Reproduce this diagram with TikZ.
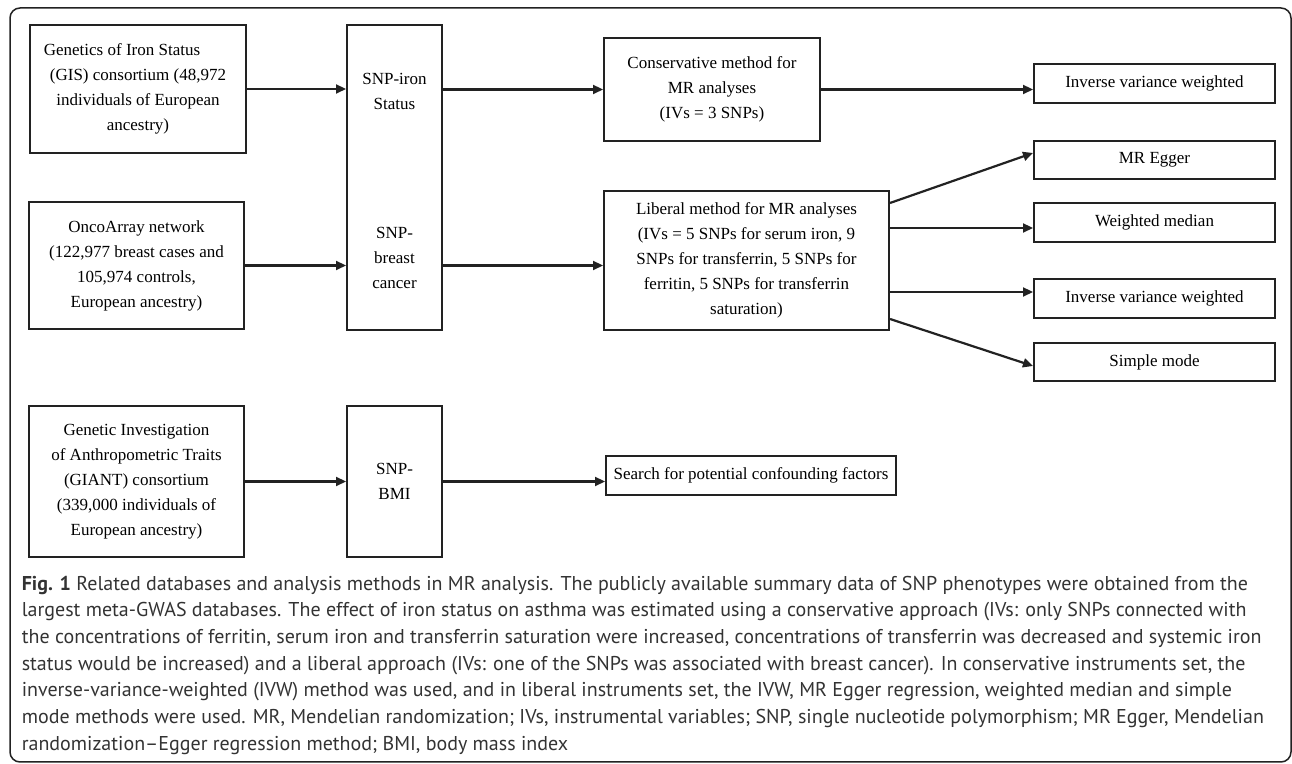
\documentclass[tikz,border=0pt]{standalone}
\usepackage{fontspec}
\setmainfont{Liberation Serif}
\setsansfont{PT Sans}
\usetikzlibrary{positioning,arrows.meta}
\tikzset{every picture/.style={line width=0.8pt}}
\definecolor{capgray}{HTML}{333333}
\definecolor{linegray}{HTML}{222222}

\begin{document}
\begin{tikzpicture}[x=0.5pt, y=-0.5pt,
    box/.style={draw=linegray, line width=1pt, align=center, inner sep=0pt, font=\fontsize{8.5}{12.5}\selectfont},
    lbl/.style={align=center, inner sep=0pt, font=\fontsize{8.5}{12.5}\selectfont},
    outbox/.style={box, minimum width=120.5pt, minimum height=19.25pt},
    arr/.style={-{Triangle[length=5pt,width=4.5pt]}, line width=1.1pt, draw=linegray}]
    \useasboundingbox (0,0) rectangle (1292,764);

    % Outer frame
    \draw[linegray, line width=0.75pt, rounded corners=5pt] (10,8) rectangle (1291,762);

    % Source databases
    \node[box, minimum width=108pt, minimum height=64pt] (gis) at (138,89) {Genetics of Iron Status\hspace*{16pt}\\(GIS) consortium (48,972\\individuals of European\\ancestry)};
    \node[box, minimum width=107.5pt, minimum height=63.5pt] (onco) at (136.5,265.5) {OncoArray network\\(122,977 breast cases and\\105,974 controls,\\European ancestry)};
    \node[box, minimum width=107.5pt, minimum height=75.5pt] (giant) at (136.5,481.5) {Genetic Investigation\\of Anthropometric Traits\\(GIANT) consortium\\(339,000 individuals of\\European ancestry)};

    % SNP sets
    \node[box, minimum width=47.5pt, minimum height=152.5pt] (snpcol) at (394.5,177.5) {};
    \node[lbl] (snpiron) at (394.5,91) {SNP-iron\\Status};
    \node[lbl] (snpbc) at (394.5,258) {SNP-\\breast\\cancer};
    \node[box, minimum width=47.5pt, minimum height=75.5pt] (bmi) at (394.5,481.5) {SNP-\\BMI};

    % MR approaches
    \node[box, minimum width=108pt, minimum height=51.5pt] (cons) at (712,89.5) {Conservative method for\\MR analyses\\(IVs = 3 SNPs)};
    \node[box, minimum width=142.5pt, minimum height=69.5pt] (lib) at (746.5,260.5) {Liberal method for MR analyses\\(IVs = 5 SNPs for serum iron, 9\\SNPs for transferrin, 5 SNPs for\\ferritin, 5 SNPs for transferrin\\saturation)};
    \node[box, minimum width=145pt, minimum height=19.5pt] (search) at (751,475.5) {Search for potential confounding factors};

    % Estimation methods
    \node[outbox] (ivwa) at (1154.5,83.5) {Inverse variance weighted};
    \node[outbox] (egger) at (1154.5,160) {MR Egger};
    \node[outbox] (wmed) at (1154.5,222.5) {Weighted median};
    \node[outbox] (ivwb) at (1154.5,298.5) {Inverse variance weighted};
    \node[outbox] (smode) at (1154.5,362) {Simple mode};

    % Arrows
    \draw[arr] (gis.east) -- (gis.east -| snpcol.west);
    \draw[arr] (onco.east) -- (onco.east -| snpcol.west);
    \draw[arr] (giant.east) -- (giant.east -| bmi.west);
    \draw[arr] (cons.west -| snpcol.east) -- (cons.west);
    \draw[arr] (onco.east -| snpcol.east) -- (onco.east -| lib.west);
    \draw[arr] (bmi.east) -- (bmi.east -| search.west);
    \draw[arr] (cons.east) -- (cons.east -| ivwa.west);
    \draw[arr] ([yshift=-6.5pt]lib.north east) -- ([yshift=3.5pt]egger.west);
    \draw[arr] ([yshift=-2.75pt]wmed.west -| lib.east) -- ([yshift=-2.75pt]wmed.west);
    \draw[arr] ([yshift=3.25pt]ivwb.west -| lib.east) -- ([yshift=3.25pt]ivwb.west);
    \draw[arr] ([yshift=6pt]lib.south east) -- ([yshift=-2pt]smode.west);

    % Caption
    \node[anchor=north west, align=left, inner sep=0pt, text=capgray, font=\sffamily\fontsize{10}{13.35}\selectfont] (caption) at (21,575) {\textbf{Fig. 1} Related databases and analysis methods in MR analysis. The publicly available summary data of SNP phenotypes were obtained from the\\
    largest meta-GWAS databases. The effect of iron status on asthma was estimated using a conservative approach (IVs: only SNPs connected with\\
    the concentrations of ferritin, serum iron and transferrin saturation were increased, concentrations of transferrin was decreased and systemic iron\\
    status would be increased) and a liberal approach (IVs: one of the SNPs was associated with breast cancer). In conservative instruments set, the\\
    inverse-variance-weighted (IVW) method was used, and in liberal instruments set, the IVW, MR Egger regression, weighted median and simple\\
    mode methods were used. MR, Mendelian randomization; IVs, instrumental variables; SNP, single nucleotide polymorphism; MR Egger, Mendelian\\
    randomization--Egger regression method; BMI, body mass index};
\end{tikzpicture}
\end{document}
